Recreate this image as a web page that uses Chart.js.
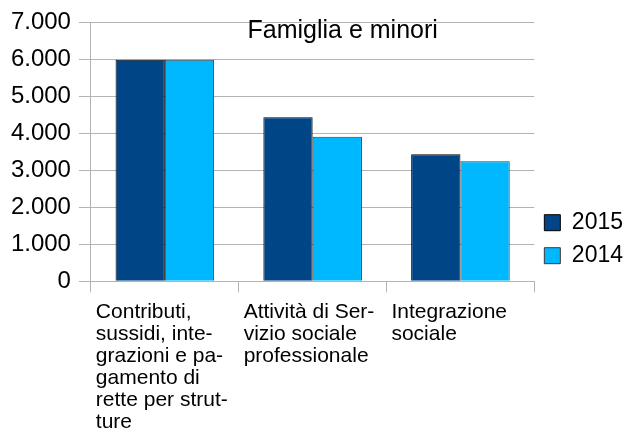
<!DOCTYPE html>
<html>
<head>
<meta charset="utf-8">
<script src="https://cdn.jsdelivr.net/npm/chart.js@4/dist/chart.umd.min.js"></script>
<style>
  html, body { margin: 0; padding: 0; background: #fff; }
  #wrap { width: 631px; height: 428px; position: relative; }
</style>
</head>
<body>
<div id="wrap"><canvas id="c"></canvas></div>
<script>
const chartTitle = 'Famiglia e minori';
const categories = [
  ['Contributi,', 'sussidi, inte-', 'grazioni e pa-', 'gamento di', 'rette per strut-', 'ture'],
  ['Attività di Ser-', 'vizio sociale', 'professionale'],
  ['Integrazione', 'sociale']
];
const seriesNames = ['2015', '2014'];
const values2015 = [6000, 4440, 3440];
const values2014 = [6000, 3910, 3250];
const yTickLabels = ['0', '1.000', '2.000', '3.000', '4.000', '5.000', '6.000', '7.000'];

const FONT = "'Liberation Sans', Arial, sans-serif";
const GRID = '#b3b3b3';

const titlePlugin = {
  id: 'innerTitle',
  afterDraw(chart) {
    const ctx = chart.ctx;
    const a = chart.chartArea;
    ctx.save();
    ctx.font = '25px ' + FONT;
    ctx.fillStyle = '#000';
    ctx.textAlign = 'center';
    ctx.textBaseline = 'alphabetic';
    ctx.fillText(chartTitle, (a.left + a.right) / 2 + 30, a.top + 15.6);
    ctx.restore();
  }
};

new Chart(document.getElementById('c'), {
  type: 'bar',
  data: {
    labels: categories,
    datasets: [
      { label: seriesNames[0], data: values2015, backgroundColor: '#004586', borderColor: '#000000', borderWidth: 1 },
      { label: seriesNames[1], data: values2014, backgroundColor: '#00b8ff', borderColor: '#3a3a3a', borderWidth: 1 }
    ]
  },
  options: {
    responsive: true,
    maintainAspectRatio: false,
    animation: false,
    layout: { padding: { left: 2.9, top: 22.7, right: -2, bottom: -13.7 } },
    datasets: { bar: { categoryPercentage: 0.667, barPercentage: 1.0 } },
    plugins: {
      title: { display: false },
      tooltip: { enabled: false },
      legend: {
        position: 'right',
        title: { display: true, text: ' ', font: { size: 14, lineHeight: 1 }, padding: { top: 0, bottom: 0 } },
        labels: {
          boxWidth: 16, boxHeight: 16, padding: 10, color: '#000',
          font: { family: FONT, size: 23 }
        }
      }
    },
    scales: {
      x: {
        grid: { display: true, drawOnChartArea: false, offset: true, color: GRID, tickLength: 11 },
        border: { color: GRID },
        ticks: {
          color: '#000', font: { family: FONT, size: 21, lineHeight: 22 / 21 },
          maxRotation: 0, minRotation: 0, autoSkip: false,
          align: 'start', labelOffset: -69, padding: 8.7
        }
      },
      y: {
        min: 0, max: 7000,
        ticks: {
          stepSize: 1000, color: '#000', font: { family: FONT, size: 24 }, padding: 8,
          callback: (v, i) => yTickLabels[i]
        },
        grid: { color: GRID, tickLength: 12 },
        border: { color: GRID }
      }
    }
  },
  plugins: [titlePlugin]
});
</script>
</body>
</html>
